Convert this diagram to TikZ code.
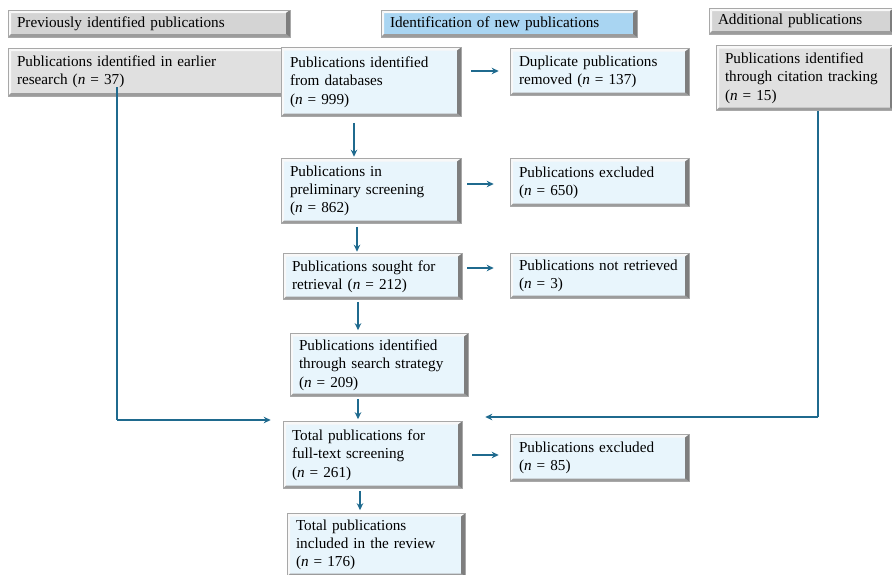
\documentclass[tikz,border=0pt]{standalone}
\usepackage{fontspec}
\setmainfont{Liberation Serif}
\usetikzlibrary{arrows.meta}
\definecolor{arrowc}{HTML}{1F6A8E}
\definecolor{bluefill}{HTML}{E8F5FC}
\definecolor{headblue}{HTML}{A9D5F2}
\definecolor{grayfill}{HTML}{E0E0E0}
\definecolor{headgray}{HTML}{D4D4D4}
\definecolor{bvright}{HTML}{7E7E7E}
\definecolor{bvbot}{HTML}{9C9C9C}
\definecolor{bvlight}{HTML}{F8F8F8}
\definecolor{bvborder}{HTML}{A8A8A8}
\tikzset{
  bev/.style={draw=bvborder, line width=0.6pt,
    path picture={
      \path (path picture bounding box.south west) coordinate (bbsw)
            (path picture bounding box.north east) coordinate (bbne)
            (path picture bounding box.north west) coordinate (bbnw)
            (path picture bounding box.south east) coordinate (bbse);
      \fill[bvlight] (bbnw) -- (bbne) -- ([shift={(-4pt,-3pt)}]bbne) -- ([shift={(3pt,-3pt)}]bbnw) -- cycle;
      \fill[bvlight] (bbnw) -- (bbsw) -- ([shift={(3pt,3pt)}]bbsw) -- ([shift={(3pt,-3pt)}]bbnw) -- cycle;
      \fill[bvbot] (bbsw) -- (bbse) -- ([shift={(-4pt,3pt)}]bbse) -- ([shift={(3pt,3pt)}]bbsw) -- cycle;
      \fill[bvright] (bbne) -- (bbse) -- ([shift={(-4pt,3pt)}]bbse) -- ([shift={(-4pt,-3pt)}]bbne) -- cycle;
    }},
  txt/.style={font=\fontsize{15.2}{18.3}\selectfont, align=left, inner xsep=9pt, inner ysep=0pt},
  bbox/.style={bev, txt, fill=bluefill},
  gbox/.style={bev, txt, fill=grayfill},
  hblue/.style={bev, txt, fill=headblue},
  hgray/.style={bev, txt, fill=headgray},
  arr/.style={draw=arrowc, line width=1.4pt, -{Stealth[length=7pt,width=6.5pt]}},
  ln/.style={draw=arrowc, line width=1.4pt},
}
\begin{document}
\begin{tikzpicture}[x=1pt,y=-1pt]
\useasboundingbox (0,0) rectangle (892,574);
% headers
\node[hgray, minimum width=282pt, minimum height=27pt, text width=264pt] (h1) at (149,23.5) {Previously identified publications};
\node[hblue, minimum width=256pt, minimum height=27pt, text width=238pt] (h2) at (509,23.5) {Identification of new publications};
\node[hgray, minimum width=185pt, minimum height=26pt, text width=167pt] (h3) at (801.5,21) {Additional publications};
% boxes
\node[gbox, minimum width=282pt, minimum height=48pt, text width=264pt] (e37) at (149,72) {Publications identified in earlier\\research (\textit{n} = 37)};
\node[bbox, minimum width=180pt, minimum height=69pt, text width=162pt] (db) at (371,82) {Publications identified\\from databases\\(\textit{n} = 999)};
\node[bbox, minimum width=179pt, minimum height=47pt, text width=161pt] (dup) at (599.5,72) {Duplicate publications\\removed (\textit{n} = 137)};
\node[gbox, minimum width=178pt, minimum height=65pt, text width=160pt] (cit) at (805,78) {Publications identified\\through citation tracking\\(\textit{n} = 15)};
\node[bbox, minimum width=180pt, minimum height=65pt, text width=162pt] (pre) at (371,191) {Publications in\\preliminary screening\\(\textit{n} = 862)};
\node[bbox, minimum width=179pt, minimum height=48pt, text width=161pt] (ex650) at (599.5,182.5) {Publications excluded\\(\textit{n} = 650)};
\node[bbox, minimum width=179pt, minimum height=46pt, text width=161pt] (sought) at (372.5,276.5) {Publications sought for\\retrieval (\textit{n} = 212)};
\node[bbox, minimum width=179pt, minimum height=45pt, text width=161pt] (notret) at (599.5,276) {Publications not retrieved\\(\textit{n} = 3)};
\node[bbox, minimum width=178pt, minimum height=63pt, text width=160pt] (search) at (379,365) {Publications identified\\through search strategy\\(\textit{n} = 209)};
\node[bbox, minimum width=179pt, minimum height=67pt, text width=161pt] (full) at (372.5,455) {Total publications for\\full-text screening\\(\textit{n} = 261)};
\node[bbox, minimum width=179pt, minimum height=47pt, text width=161pt] (ex85) at (599.5,458) {Publications excluded\\(\textit{n} = 85)};
\node[bbox, minimum width=178pt, minimum height=63pt, text width=160pt] (incl) at (376,545) {Total publications\\included in the review\\(\textit{n} = 176)};
% vertical arrows
\draw[arr, shorten <=6pt, shorten >=1.5pt] (db.south -| 354,0) -- (pre.north -| 354,0);
\draw[arr, shorten <=3pt, shorten >=1.5pt] (pre.south -| 357,0) -- (sought.north -| 357,0);
\draw[arr, shorten <=2pt, shorten >=3pt] (sought.south -| 358,0) -- (search.north -| 358,0);
\draw[arr, shorten <=2pt, shorten >=2pt] (search.south -| 358,0) -- (full.north -| 358,0);
\draw[arr, shorten <=2pt, shorten >=3pt] (full.south -| 360,0) -- (incl.north -| 360,0);
% horizontal arrows
\draw[arr, shorten <=10pt, shorten >=11pt] (db.east |- 0,71) -- (dup.west |- 0,71);
\draw[arr, shorten <=6pt, shorten >=16pt] (pre.east |- 0,184) -- (ex650.west |- 0,184);
\draw[arr, shorten <=5pt, shorten >=16pt] (sought.east |- 0,268) -- (notret.west |- 0,268);
\draw[arr, shorten <=10pt, shorten >=11pt] (full.east |- 0,455) -- (ex85.west |- 0,455);
% side connectors
\coordinate (lc) at (117,420);
\coordinate (rc) at (818,417);
\draw[ln] (e37.south -| lc) ++(0,-9) -- (lc);
\draw[arr, shorten >=12pt] (lc) -- (full.west |- lc);
\draw[ln] (cit.south -| rc) -- (rc);
\draw[arr, shorten >=23pt] (rc) -- (full.east |- rc);
\end{tikzpicture}
\end{document}
